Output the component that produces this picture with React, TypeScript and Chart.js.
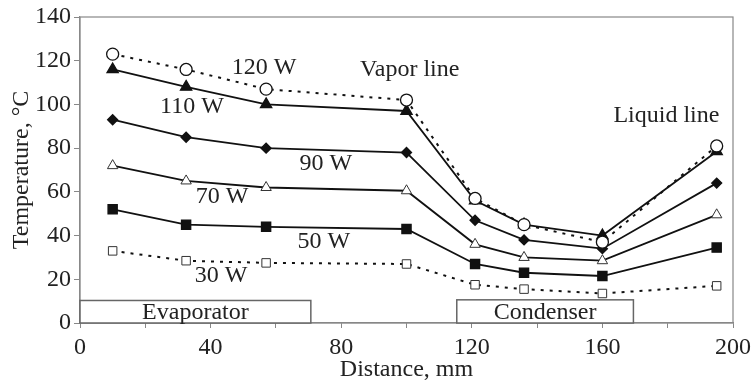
import React, { useEffect, useRef } from "react";
import { Chart, registerables } from "chart.js";

Chart.register(...registerables);

// Measurement positions along the heat pipe (mm)
const distanceMm = [10, 32.5, 57, 100, 121, 136, 160, 195];

// Wall temperatures (°C) for each heat load
const temp120W = [123, 116, 107, 102, 57, 45, 37, 81];
const temp110W = [116, 108, 100, 97, 56, 45, 40, 78.5];
const temp90W = [93, 85, 80, 78, 47, 38, 34, 64];
const temp70W = [72, 65, 62, 60.5, 36, 30, 28.5, 49.5];
const temp50W = [52, 45, 44, 43, 27, 23, 21.5, 34.5];
const temp30W = [33, 28.5, 27.5, 27, 17.5, 15.5, 13.5, 17];

const seriesNames = ["120 W", "110 W", "90 W", "70 W", "50 W", "30 W"];

// Annotation anchors in data units: [x mm, y °C]
const loadLabelPos: [number, number][] = [
  [56.4, 117],
  [34.3, 99],
  [75.3, 73],
  [43.5, 58],
  [74.7, 37.3],
  [43.2, 21.5],
];
const regionLabels: { text: string; x: number; y: number }[] = [
  { text: "Vapor line", x: 101, y: 116 },
  { text: "Liquid line", x: 179.6, y: 95 },
];
const sectionBoxes: { text: string; from: number; to: number; height: number }[] = [
  { text: "Evaporator", from: 0, to: 70.7, height: 10.3 },
  { text: "Condenser", from: 115.4, to: 169.5, height: 10.6 },
];

const FONT = "'Liberation Serif', 'Times New Roman', serif";
const FONT_SIZE = 24;
const TEXT = "#222";
const AXIS = "#888";

const pts = (ys: number[]) => distanceMm.map((x, i) => ({ x, y: ys[i] }));

const annotations = {
  id: "annotations",
  beforeDatasetsDraw(chart: any) {
    const { ctx, chartArea, scales } = chart;
    const xs = scales.x;
    const ys = scales.y;
    ctx.save();
    // frame around the plot area
    ctx.strokeStyle = AXIS;
    ctx.lineWidth = 1.2;
    ctx.strokeRect(chartArea.left, chartArea.top, chartArea.right - chartArea.left, chartArea.bottom - chartArea.top);
    // evaporator / condenser sections
    ctx.font = `${FONT_SIZE}px ${FONT}`;
    ctx.textAlign = "center";
    ctx.textBaseline = "middle";
    for (const b of sectionBoxes) {
      const x0 = xs.getPixelForValue(b.from);
      const x1 = xs.getPixelForValue(b.to);
      const y0 = ys.getPixelForValue(b.height);
      const y1 = ys.getPixelForValue(0);
      ctx.fillStyle = "#fff";
      ctx.fillRect(x0, y0, x1 - x0, y1 - y0);
      ctx.strokeStyle = "#666";
      ctx.lineWidth = 1.5;
      ctx.strokeRect(x0, y0, x1 - x0, y1 - y0);
      ctx.fillStyle = TEXT;
      ctx.fillText(b.text, (x0 + x1) / 2, (y0 + y1) / 2 + 1);
    }
    ctx.restore();
  },
  afterDatasetsDraw(chart: any) {
    const { ctx, scales } = chart;
    const xs = scales.x;
    const ys = scales.y;
    ctx.save();
    ctx.font = `${FONT_SIZE}px ${FONT}`;
    ctx.fillStyle = TEXT;
    ctx.textAlign = "center";
    ctx.textBaseline = "middle";
    seriesNames.forEach((name, i) => {
      const [x, y] = loadLabelPos[i];
      ctx.fillText(name, xs.getPixelForValue(x), ys.getPixelForValue(y));
    });
    for (const r of regionLabels) {
      ctx.fillText(r.text, xs.getPixelForValue(r.x), ys.getPixelForValue(r.y));
    }
    ctx.restore();
  },
};

export default function App() {
  const canvasRef = useRef<HTMLCanvasElement | null>(null);

  useEffect(() => {
    const canvas = canvasRef.current;
    if (!canvas) return;
    const base = {
      borderColor: "#111",
      pointBorderColor: "#111",
      pointBorderWidth: 1.3,
      tension: 0,
      fill: false,
    };
    const chart = new Chart(canvas, {
      type: "line",
      data: {
        datasets: [
          {
            ...base,
            label: seriesNames[0],
            data: pts(temp120W),
            borderWidth: 2,
            borderDash: [3, 6],
            pointStyle: "circle",
            pointRadius: 6,
            pointBackgroundColor: "#fff",
          },
          {
            ...base,
            label: seriesNames[1],
            data: pts(temp110W),
            borderWidth: 1.8,
            pointStyle: "triangle",
            pointRadius: 6.5,
            pointBackgroundColor: "#111",
          },
          {
            ...base,
            label: seriesNames[2],
            data: pts(temp90W),
            borderWidth: 1.8,
            pointStyle: "rectRot",
            pointRadius: 5,
            pointBackgroundColor: "#111",
          },
          {
            ...base,
            label: seriesNames[3],
            data: pts(temp70W),
            borderWidth: 1.8,
            pointStyle: "triangle",
            pointRadius: 6,
            pointBorderColor: "#333",
            pointBorderWidth: 1,
            pointBackgroundColor: "#fff",
          },
          {
            ...base,
            label: seriesNames[4],
            data: pts(temp50W),
            borderWidth: 1.8,
            pointStyle: "rect",
            pointRadius: 6.5,
            pointBackgroundColor: "#111",
          },
          {
            ...base,
            label: seriesNames[5],
            data: pts(temp30W),
            borderWidth: 2,
            borderDash: [3, 6],
            pointStyle: "rect",
            pointRadius: 6,
            pointBorderColor: "#333",
            pointBorderWidth: 1,
            pointBackgroundColor: "#fff",
          },
        ],
      },
      options: {
        responsive: false,
        animation: false,
        devicePixelRatio: 1,
        layout: { padding: { top: 17, right: 18, left: 0, bottom: 0 } },
        plugins: {
          legend: { display: false },
          tooltip: { enabled: false },
        },
        scales: {
          x: {
            type: "linear",
            min: 0,
            max: 200,
            afterFit(scale: any) {
              scale.height = 59;
              scale.paddingLeft = 0;
              scale.paddingRight = 0;
            },
            border: { display: true, color: AXIS, width: 1.2 },
            grid: { display: true, drawOnChartArea: false, drawTicks: true, tickLength: 5, color: AXIS },
            ticks: {
              stepSize: 20,
              padding: 5,
              maxRotation: 0,
              autoSkip: false,
              color: TEXT,
              font: { family: FONT, size: FONT_SIZE },
              callback: (v: any) => (Number(v) % 40 === 0 ? String(v) : ""),
            },
            title: {
              display: true,
              text: "Distance, mm",
              color: TEXT,
              font: { family: FONT, size: FONT_SIZE, lineHeight: 1 },
              padding: { top: 0, bottom: 0 },
            },
          },
          y: {
            type: "linear",
            min: 0,
            max: 140,
            afterFit(scale: any) {
              scale.width = 80;
              scale.paddingTop = 0;
              scale.paddingBottom = 0;
            },
            border: { display: true, color: AXIS, width: 1.2 },
            grid: { display: true, drawOnChartArea: false, drawTicks: true, tickLength: 6, color: AXIS },
            ticks: {
              stepSize: 20,
              padding: 3,
              color: TEXT,
              font: { family: FONT, size: FONT_SIZE },
            },
            title: {
              display: true,
              text: "Temperature, °C",
              color: TEXT,
              font: { family: FONT, size: FONT_SIZE, lineHeight: 1 },
              padding: { top: 10, bottom: 0 },
            },
          },
        },
      },
      plugins: [annotations],
    } as any);
    return () => chart.destroy();
  }, []);

  return (
    <div style={{ position: "fixed", left: 0, top: 0, width: 751, height: 382, background: "#fff" }}>
      <canvas ref={canvasRef} width={751} height={382} style={{ display: "block" }} />
    </div>
  );
}
